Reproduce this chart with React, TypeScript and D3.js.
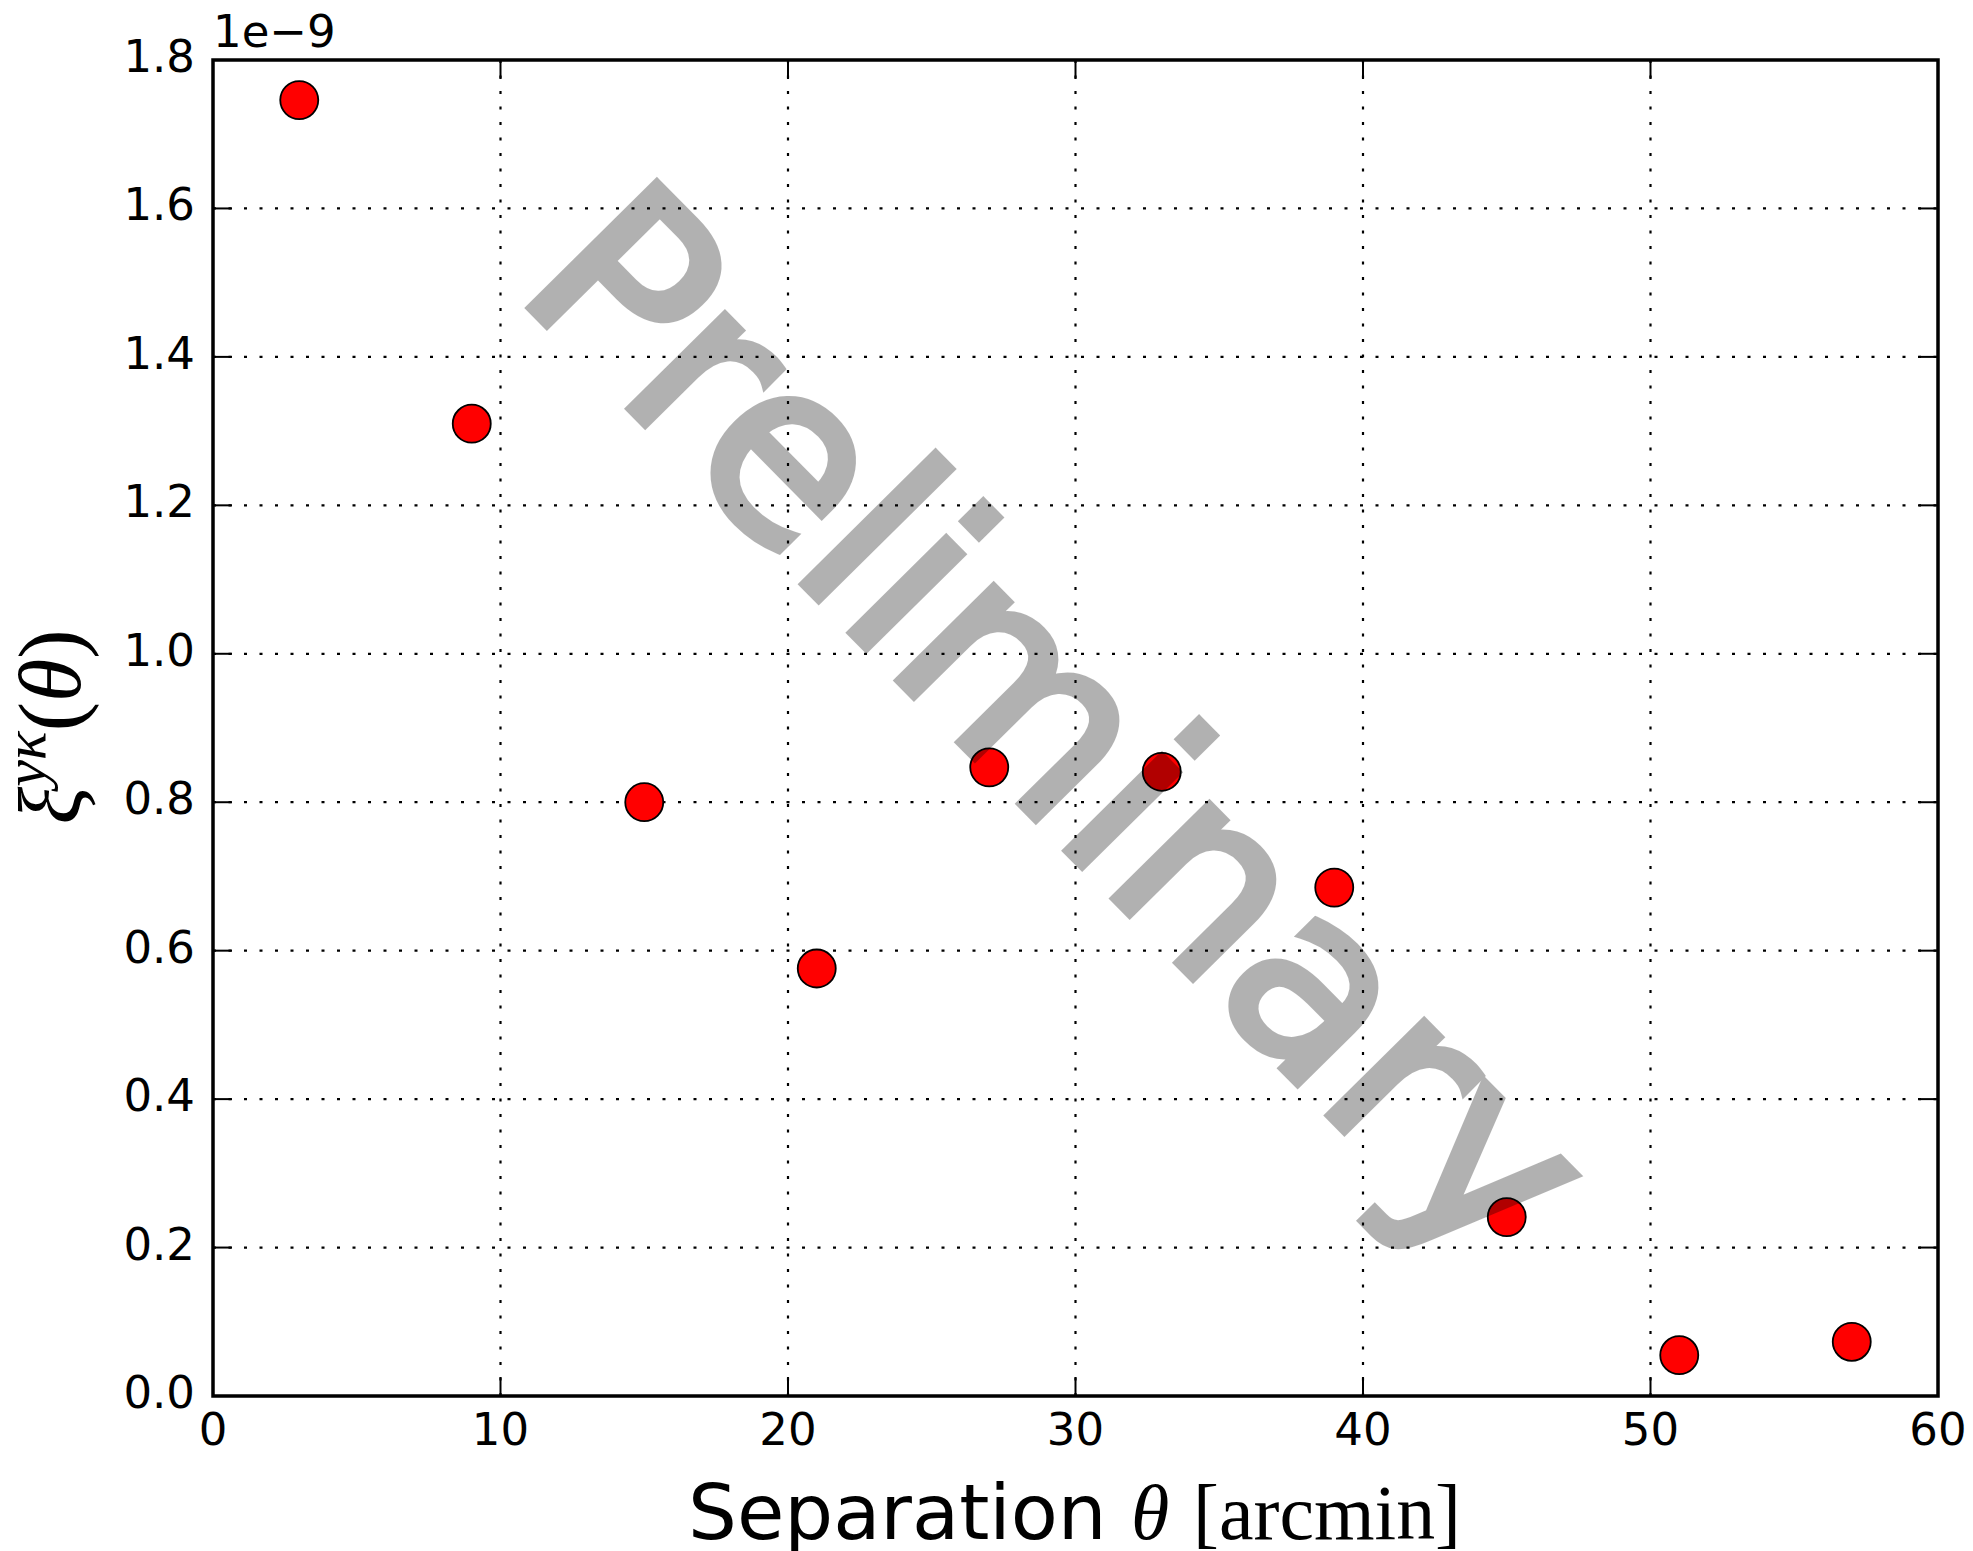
import React from "react";
import * as d3 from "d3";

// Angular separation bins (arcmin) and the y–kappa cross-correlation (units of 1e-9)
const separation = [3, 9, 15, 21, 27, 33, 39, 45, 51, 57];
const xiYKappa = [1.746, 1.31, 0.8, 0.576, 0.847, 0.841, 0.685, 0.241, 0.055, 0.073];

const xTickValues = [0, 10, 20, 30, 40, 50, 60];
const yTickValues = [0, 0.2, 0.4, 0.6, 0.8, 1.0, 1.2, 1.4, 1.6, 1.8];

const W = 1973;
const H = 1551;
const plot = { left: 213, right: 1938, top: 60, bottom: 1396 };

const SANS = "'DejaVu Sans', sans-serif";
const SERIF = "'Liberation Serif', 'DejaVu Serif', serif";

export default function App() {
  const x = d3.scaleLinear().domain([0, 60]).range([plot.left, plot.right]);
  const y = d3.scaleLinear().domain([0, 1.8]).range([plot.bottom, plot.top]);
  const fmt = d3.format(".1f");
  const tickLen = 19;

  const gridX = xTickValues.filter((v) => v > 0 && v < 60);
  const gridY = yTickValues.filter((v) => v > 0 && v < 1.8);

  return (
    <div style={{ position: "absolute", left: 0, top: 0 }}>
      <svg width={W} height={H} viewBox={`0 0 ${W} ${H}`} style={{ display: "block", background: "#fff" }}>
        <rect x={0} y={0} width={W} height={H} fill="#fff" />

        {/* dotted grid */}
        <g stroke="#000" strokeWidth={2.2} strokeDasharray="3 12.5" fill="none">
          {gridX.map((v) => (
            <line key={`gx${v}`} x1={x(v)} x2={x(v)} y1={plot.bottom} y2={plot.top} />
          ))}
          {gridY.map((v) => (
            <line key={`gy${v}`} x1={plot.left} x2={plot.right} y1={y(v)} y2={y(v)} />
          ))}
        </g>

        {/* inward ticks on all four sides */}
        <g stroke="#000" strokeWidth={2}>
          {xTickValues.map((v) => (
            <g key={`xt${v}`}>
              <line x1={x(v)} x2={x(v)} y1={plot.bottom} y2={plot.bottom - tickLen} />
              <line x1={x(v)} x2={x(v)} y1={plot.top} y2={plot.top + tickLen} />
            </g>
          ))}
          {yTickValues.map((v) => (
            <g key={`yt${v}`}>
              <line x1={plot.left} x2={plot.left + tickLen} y1={y(v)} y2={y(v)} />
              <line x1={plot.right} x2={plot.right - tickLen} y1={y(v)} y2={y(v)} />
            </g>
          ))}
        </g>

        {/* data points */}
        <g>
          {separation.map((s, i) => (
            <circle key={`p${i}`} cx={x(s)} cy={y(xiYKappa[i])} r={19} fill="#ff0000" stroke="#000" strokeWidth={1.8} />
          ))}
        </g>

        {/* watermark, composited as one translucent layer */}
        <g opacity={0.3}>
          <text
            transform="translate(513,291) rotate(45.3)"
            fontFamily={SANS}
            fontSize={245}
            fill="#000"
            stroke="#000"
            strokeWidth={8}
            strokeLinejoin="miter"
          >
            Preliminary
          </text>
        </g>

        {/* frame */}
        <rect
          x={plot.left}
          y={plot.top}
          width={plot.right - plot.left}
          height={plot.bottom - plot.top}
          fill="none"
          stroke="#000"
          strokeWidth={3.5}
        />

        {/* tick labels */}
        <g fontFamily={SANS} fontSize={45} fill="#000">
          {xTickValues.map((v) => (
            <text key={`xl${v}`} x={x(v)} y={plot.bottom + 49} textAnchor="middle">
              {v}
            </text>
          ))}
          {yTickValues.map((v) => (
            <text key={`yl${v}`} x={plot.left - 18} y={y(v) + 12} textAnchor="end">
              {fmt(v)}
            </text>
          ))}
          <text x={plot.left} y={47}>1e−9</text>
        </g>

        {/* x axis label */}
        <text x={688} y={1539} fontFamily={SANS} fontSize={77} fill="#000">
          Separation
        </text>
        <text x={1131} y={1539} fontFamily={SERIF} fontStyle="italic" fontSize={78} fill="#000">
          θ
        </text>
        <text x={1193} y={1539} fontFamily={SERIF} fontSize={78} fill="#000" textLength={268} lengthAdjust="spacingAndGlyphs">
          [arcmin]
        </text>

        {/* y axis label */}
        <text transform="translate(80,727) rotate(-90)" textAnchor="middle" fontFamily={SERIF} fontSize={88} fill="#000">
          <tspan fontStyle="italic">ξ</tspan>
          <tspan fontStyle="italic" fontSize={60} dy={-35}>yκ</tspan>
          <tspan dy={35}>(</tspan>
          <tspan fontStyle="italic">θ</tspan>
          <tspan>)</tspan>
        </text>
      </svg>
    </div>
  );
}
